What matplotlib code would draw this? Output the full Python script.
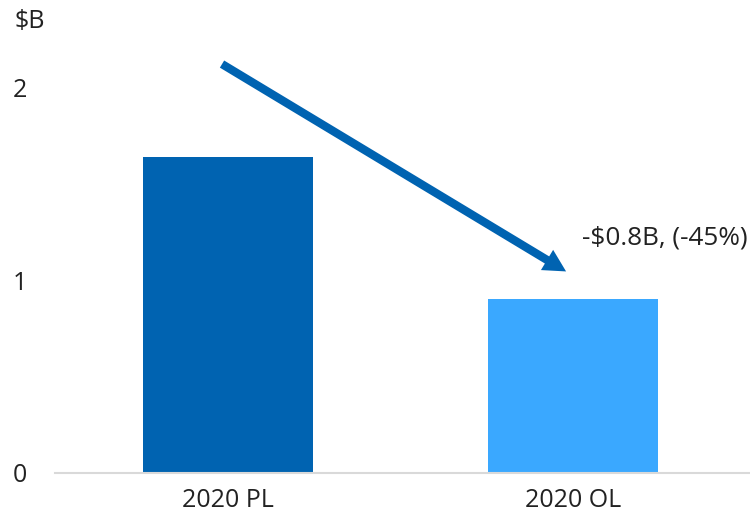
import matplotlib
matplotlib.use("Agg")
import matplotlib.pyplot as plt
from matplotlib.patches import FancyArrowPatch

plt.rcParams['font.family'] = ['Open Sans', 'DejaVu Sans']

categories = ["2020 PL", "2020 OL"]
values = [1.64, 0.90]
colors = ["#0063B1", "#3AA8FF"]
yticks = [0, 1, 2]
annotation = "-$0.8B, (-45%)"

FS = 18

fig = plt.figure(figsize=(7.5, 5.19), dpi=100)
ax = fig.add_axes([55/750, (519-473)/519, 1 - 55/750, (473-39)/519])

x = list(range(len(categories)))
ax.bar(x, values, width=0.493, color=colors, zorder=2)
ax.set_xlim(-0.501, 1.513)
ax.set_ylim(0, 2.25)
ax.set_xticks(x)
ax.set_xticklabels(categories, fontsize=FS, color="#222222")
ax.set_yticks(yticks)
ax.set_yticklabels([str(t) for t in yticks], fontsize=FS, color="#222222")
ax.tick_params(axis='both', length=0)
ax.tick_params(axis='y', pad=20)
ax.tick_params(axis='x', pad=11)
for s in ['top', 'right', 'left']:
    ax.spines[s].set_visible(False)
ax.spines['bottom'].set_color('#d9d9d9')
ax.spines['bottom'].set_linewidth(1.5)

arrow = FancyArrowPatch((-0.017, 2.12), (0.98, 1.045),
                        arrowstyle="simple,head_length=1.6,head_width=1.7,tail_width=0.6",
                        mutation_scale=10, color="#0063B1", lw=0,
                        shrinkA=0, shrinkB=0, zorder=3)
ax.add_patch(arrow)
ax.text(1.025, 1.22, annotation, fontsize=18.8, color="#222222", va='center', ha='left')

fig.text(14/750, 1 - 22/519, "$B", fontsize=FS, color="#222222", va='center', ha='left')

fig.savefig("out.png", dpi=100)
